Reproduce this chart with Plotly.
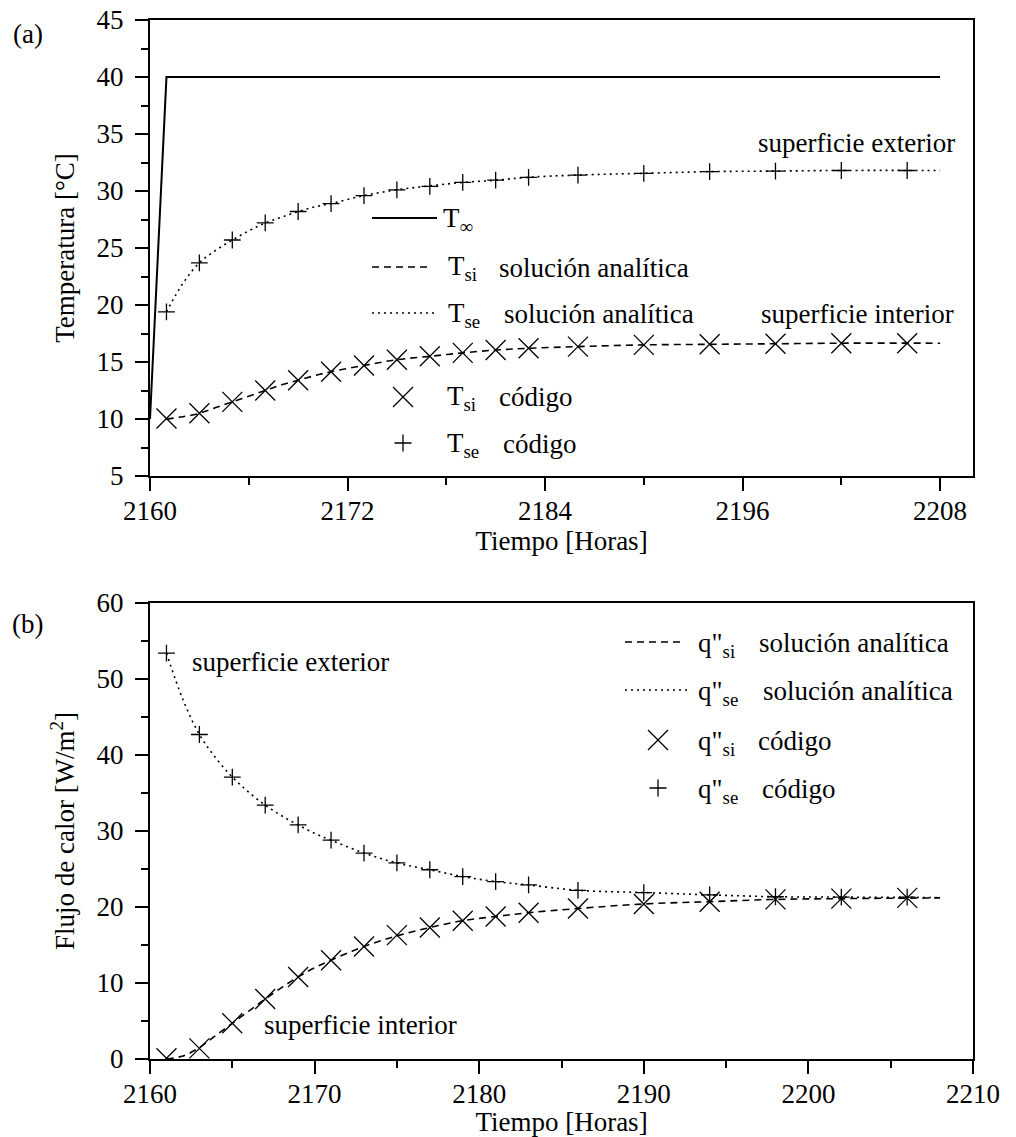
import plotly.graph_objects as go

# ---------------- data ----------------
t_code = [2161, 2163, 2165, 2167, 2169, 2171, 2173, 2175, 2177, 2179, 2181, 2183,
          2186, 2190, 2194, 2198, 2202, 2206]

# panel (a): temperatures
t_inf = [2160, 2161, 2208]
T_inf = [10, 40, 40]

Tsi_code = [10.05, 10.5, 11.5, 12.5, 13.4, 14.15, 14.7, 15.2, 15.5, 15.8, 16.05, 16.2,
            16.35, 16.5, 16.55, 16.6, 16.65, 16.65]
Tse_code = [19.4, 23.7, 25.7, 27.2, 28.2, 28.9, 29.6, 30.1, 30.4, 30.75, 30.95, 31.2,
            31.4, 31.55, 31.7, 31.75, 31.8, 31.8]

t_an = [2161, 2162, 2163, 2164, 2165, 2166, 2167, 2168, 2169, 2170, 2171, 2173, 2175,
        2177, 2179, 2181, 2183, 2186, 2190, 2194, 2198, 2202, 2208]
Tsi_an = [10.0, 10.2, 10.5, 11.0, 11.5, 12.0, 12.5, 13.0, 13.4, 13.8, 14.15, 14.7, 15.2,
          15.5, 15.8, 16.05, 16.2, 16.35, 16.5, 16.55, 16.6, 16.65, 16.65]
Tse_an = [19.4, 21.9, 23.7, 24.8, 25.7, 26.5, 27.2, 27.7, 28.2, 28.6, 28.9, 29.6, 30.1,
          30.45, 30.75, 30.95, 31.2, 31.4, 31.55, 31.7, 31.75, 31.8, 31.8]

# panel (b): heat flux
qsi_code = [0.1, 1.4, 4.7, 7.9, 10.8, 13.0, 14.8, 16.3, 17.3, 18.2, 18.75, 19.25,
            19.8, 20.4, 20.7, 21.0, 21.1, 21.2]
qse_code = [53.4, 42.7, 37.1, 33.4, 30.8, 28.8, 27.1, 25.8, 24.9, 24.0, 23.35, 22.9,
            22.2, 21.9, 21.6, 21.35, 21.3, 21.3]

qsi_an = [0.0, 0.4, 1.5, 3.1, 4.7, 6.3, 7.9, 9.4, 10.8, 12.0, 13.0, 14.8, 16.2,
          17.3, 18.2, 18.75, 19.25, 19.8, 20.4, 20.7, 21.0, 21.1, 21.2]
qse_an = [53.4, 47.3, 42.7, 39.6, 37.1, 35.1, 33.4, 32.0, 30.8, 29.7, 28.8, 27.1, 25.8,
          24.9, 24.0, 23.35, 22.9, 22.2, 21.9, 21.6, 21.35, 21.3, 21.25]

xa_ticks = [2160, 2172, 2184, 2196, 2208]
ya_ticks = [5, 10, 15, 20, 25, 30, 35, 40, 45]
xb_ticks = [2160, 2170, 2180, 2190, 2200, 2210]
yb_ticks = [0, 10, 20, 30, 40, 50, 60]

# ---------------- layout helpers ----------------
W, H = 1016, 1137
FONT = "Liberation Serif"
FS = 27

# plot area in pixels
L, R, T, B = 150, 973, 20, 1059
PW, PH = R - L, B - T


def px(x):
    return (x - L) / PW


def py(y):
    return 1 - (y - T) / PH


xdom = [0, 1]
ya_dom = [py(476), 1]
yb_dom = [0, py(603)]

DASH = "7px,5px"
DOT = "2px,4px"

fig = go.Figure()

# panel (a)
fig.add_trace(go.Scatter(x=t_inf, y=T_inf, mode="lines", line=dict(color="black", width=2),
                         xaxis="x", yaxis="y", showlegend=False))
fig.add_trace(go.Scatter(x=t_an, y=Tsi_an, mode="lines", line=dict(color="black", width=1.6, dash=DASH, shape="spline"),
                         xaxis="x", yaxis="y", showlegend=False))
fig.add_trace(go.Scatter(x=t_an, y=Tse_an, mode="lines", line=dict(color="black", width=1.6, dash=DOT, shape="spline"),
                         xaxis="x", yaxis="y", showlegend=False))
fig.add_trace(go.Scatter(x=t_code, y=Tsi_code, mode="markers",
                         marker=dict(symbol="x-thin", size=20, line=dict(color="black", width=1.3)),
                         xaxis="x", yaxis="y", showlegend=False))
fig.add_trace(go.Scatter(x=t_code, y=Tse_code, mode="markers",
                         marker=dict(symbol="cross-thin", size=12, line=dict(color="black", width=1.3)),
                         xaxis="x", yaxis="y", showlegend=False))

# panel (b)
fig.add_trace(go.Scatter(x=t_an, y=qsi_an, mode="lines", line=dict(color="black", width=1.6, dash=DASH, shape="spline"),
                         xaxis="x2", yaxis="y2", showlegend=False))
fig.add_trace(go.Scatter(x=t_an, y=qse_an, mode="lines", line=dict(color="black", width=1.6, dash=DOT, shape="spline"),
                         xaxis="x2", yaxis="y2", showlegend=False))
fig.add_trace(go.Scatter(x=t_code, y=qsi_code, mode="markers",
                         marker=dict(symbol="x-thin", size=20, line=dict(color="black", width=1.3)),
                         xaxis="x2", yaxis="y2", showlegend=False))
fig.add_trace(go.Scatter(x=t_code, y=qse_code, mode="markers",
                         marker=dict(symbol="cross-thin", size=12, line=dict(color="black", width=1.3)),
                         xaxis="x2", yaxis="y2", showlegend=False))

tickfont = dict(family=FONT, size=FS, color="black")
common = dict(showgrid=False, zeroline=False, showline=True, linecolor="black", linewidth=2,
              ticks="outside", ticklen=13, tickwidth=2, tickcolor="black", tickfont=tickfont,
              mirror=True, automargin=False)
minor_common = dict(ticks="outside", ticklen=7, tickwidth=2, tickcolor="black")
small = dict(ticks="outside", ticklen=4, tickwidth=1.5, tickcolor="black", showticklabels=False,
             showgrid=False, zeroline=False, showline=False, automargin=False)

fig.update_layout(
    width=W, height=H, margin=dict(l=L, r=W - R, t=T, b=H - B, autoexpand=False),
    paper_bgcolor="white", plot_bgcolor="white",
    font=dict(family=FONT, size=FS, color="black"),
    xaxis=dict(domain=xdom, anchor="y", range=[2160, 2210], tickvals=xa_ticks, ticklabelstandoff=-3,
               minor=dict(tickvals=[2166, 2178, 2190, 2202], **minor_common),
               title=dict(text="Tiempo [Horas]", font=dict(family=FONT, size=FS), standoff=0), **common),
    yaxis=dict(domain=ya_dom, anchor="x", range=[5, 45], tickvals=ya_ticks, ticklabelstandoff=6,
               minor=dict(dtick=2.5, **minor_common),
               title=dict(text="Temperatura [°C]", font=dict(family=FONT, size=FS), standoff=14), **common),
    xaxis2=dict(domain=xdom, anchor="y2", range=[2160, 2210], tickvals=xb_ticks, ticklabelstandoff=-3,
                minor=dict(dtick=5, **minor_common),
                title=dict(text="Tiempo [Horas]", font=dict(family=FONT, size=FS), standoff=0), **common),
    yaxis2=dict(domain=yb_dom, anchor="x2", range=[0, 60], tickvals=yb_ticks, ticklabelstandoff=6,
                minor=dict(dtick=5, **minor_common),
                title=dict(text="Flujo de calor [W/m<sup>2</sup>]", font=dict(family=FONT, size=FS), standoff=14), **common),
    # small mirror ticks
    xaxis3=dict(overlaying="x", anchor="y", side="top", range=[2160, 2210], dtick=6, tick0=2160, **small),
    yaxis3=dict(overlaying="y", anchor="x", side="right", range=[5, 45], dtick=2.5, tick0=5, **small),
    yaxis4=dict(overlaying="y2", anchor="x2", side="right", range=[0, 60], dtick=5, tick0=0, **small),
)

ann = []
shapes = []


def text(x, y, s, xanchor="left", size=FS):
    ann.append(dict(x=px(x), y=py(y), xref="paper", yref="paper", text=s, showarrow=False,
                    xanchor=xanchor, yanchor="middle", font=dict(family=FONT, size=size, color="black")))


def hline(x0, x1, y, dash, width):
    shapes.append(dict(type="line", xref="paper", yref="paper", x0=px(x0), x1=px(x1), y0=py(y), y1=py(y),
                       line=dict(color="black", width=width, dash=dash)))


def marker(x, y, kind):
    if kind == "x":
        path = "M-10,-10 L10,10 M-10,10 L10,-10"
    else:
        path = "M-8.5,0 L8.5,0 M0,-8.5 L0,8.5"
    shapes.append(dict(type="path", xref="paper", yref="paper", xsizemode="pixel", ysizemode="pixel",
                       xanchor=px(x), yanchor=py(y), path=path, line=dict(color="black", width=1.3)))


text(28, 34, "(a)", "center")
text(28, 624, "(b)", "center")

# panel (a) annotations
text(856, 143, "superficie exterior", "center")
text(857, 314, "superficie interior", "center")

# legend (a)
hline(372, 437, 218, "solid", 2)
text(441, 220, "T<sub>∞</sub>")
hline(372, 432, 267, DASH, 1.6)
text(446, 268, "T<sub>si</sub>")
text(497, 268, "solución analítica")
hline(372, 437, 313, DOT, 1.6)
text(446, 315, "T<sub>se</sub>")
text(502, 314, "solución analítica")
marker(403, 397, "x")
text(445, 398, "T<sub>si</sub>")
text(497, 397, "código")
marker(403, 443, "+")
text(445, 445, "T<sub>se</sub>")
text(501, 444, "código")

# panel (b) annotations
text(290, 662, "superficie exterior", "center")
text(360, 1025, "superficie interior", "center")

# legend (b)
hline(625, 684, 642, DASH, 1.6)
text(696, 645, 'q"<sub>si</sub>')
text(757, 643, "solución analítica")
hline(625, 688, 690, DOT, 1.6)
text(696, 693, 'q"<sub>se</sub>')
text(761, 691, "solución analítica")
marker(658, 740, "x")
text(696, 743, 'q"<sub>si</sub>')
text(756, 741, "código")
marker(658, 788, "+")
text(696, 791, 'q"<sub>se</sub>')
text(760, 789, "código")

fig.update_layout(annotations=ann, shapes=shapes)

fig.write_html("out.html")
